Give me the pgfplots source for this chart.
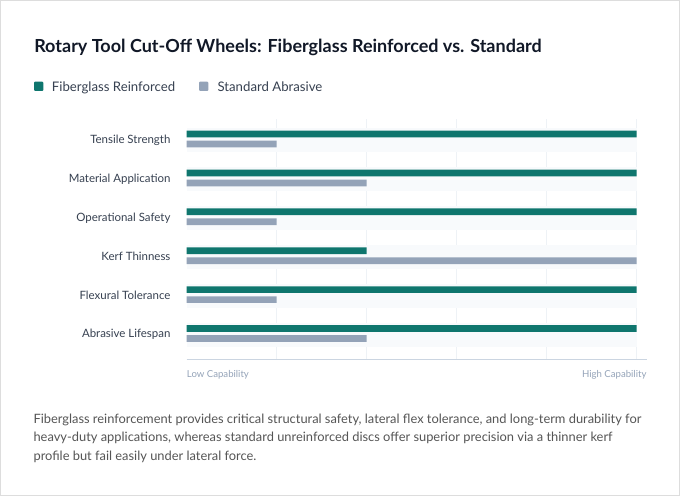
\documentclass[border=0pt]{standalone}
\usepackage{pgfplots}
\pgfplotsset{compat=1.18}
\usepackage{fontspec}
\setmainfont{Lato}
\definecolor{fg}{HTML}{0F766E}
\definecolor{sa}{HTML}{94A3B8}
\definecolor{band}{HTML}{F8FAFC}
\definecolor{gridc}{HTML}{EEF2F6}
\definecolor{axc}{HTML}{CBD5E1}
\definecolor{titlec}{HTML}{111827}
\definecolor{labc}{HTML}{374151}
\definecolor{footc}{HTML}{555555}
\definecolor{capc}{HTML}{94A3B8}
\definecolor{framec}{HTML}{DDDDDD}
\begin{document}
\begin{tikzpicture}
\useasboundingbox (0,0) rectangle (510pt,372pt);
\begin{scope}[x=0.75pt,y=0.75pt]
\draw[framec, fill=white, line width=0.75pt] (0.5,0.5) rectangle (679.5,495.5);
\node[anchor=base west, inner sep=0pt, text=titlec, font=\fontsize{13.5pt}{16pt}\selectfont\bfseries] at (34,443.3) {Rotary Tool Cut-Off Wheels: Fiberglass Reinforced vs. Standard};
\fill[fg, rounded corners=0.75pt] (34,405) rectangle (43.3,414.3);
\fill[sa, rounded corners=0.75pt] (199,405) rectangle (208.3,414.3);
\node[anchor=base west, inner sep=0pt, text=labc, font=\fontsize{9.9pt}{12pt}\selectfont] at (51.7,404.3) {Fiberglass Reinforced};
\node[anchor=base west, inner sep=0pt, text=labc, font=\fontsize{9.9pt}{12pt}\selectfont] at (217.3,404.3) {Standard Abrasive};
\end{scope}
\begin{axis}[
  at={(140.025pt,102.525pt)}, anchor=south west,
  scale only axis, width=345pt, height=180.2pt,
  xmin=0, xmax=5.111, ymin=-0.663, ymax=5.514,
  axis line style={draw=none},
  xbar, bar width=5pt,
  ytick={0,1,2,3,4,5},
  yticklabels={Abrasive Lifespan, Flexural Tolerance, Kerf Thinness, Operational Safety, Material Application, Tensile Strength},
  xtick={1,2,3,4,5},
  xticklabels={},
  xmajorgrids, major grid style={gridc, line width=0.75pt},
  major tick length=0pt,
  yticklabel style={anchor=east, inner sep=0pt, xshift=-12pt, yshift=-0.75pt, text=labc, font=\fontsize{8.6pt}{10pt}\selectfont},
  clip=false,
]
\pgfplotsinvokeforeach{0,...,5}{
  \fill[band] (axis cs:0,#1-0.334) rectangle (axis cs:5,#1+0.283);
}
\addplot[fill=fg, draw=none, bar shift=3.75pt] coordinates {(5,5) (5,4) (5,3) (2,2) (5,1) (5,0)};
\addplot[fill=sa, draw=none, bar shift=-3.75pt] coordinates {(1,5) (2,4) (1,3) (5,2) (1,1) (2,0)};
\end{axis}
\begin{scope}[x=0.75pt,y=0.75pt]
\draw[axc, line width=0.75pt] (186.7,136.7) -- (646.7,136.7);
\node[anchor=base west, inner sep=0pt, text=capc, font=\fontsize{7.2pt}{9pt}\selectfont] at (186.7,118.7) {Low Capability};
\node[anchor=base east, inner sep=0pt, text=capc, font=\fontsize{7.2pt}{9pt}\selectfont] at (646.7,118.7) {High Capability};
\node[anchor=base west, inner sep=0pt, text=footc, font=\fontsize{9.65pt}{13.75pt}\selectfont] at (33.3,72.7) {Fiberglass reinforcement provides critical structural safety, lateral flex tolerance, and long-term durability for};
\node[anchor=base west, inner sep=0pt, text=footc, font=\fontsize{9.65pt}{13.75pt}\selectfont] at (33.3,54.3) {heavy-duty applications, whereas standard unreinforced discs offer superior precision via a thinner kerf};
\node[anchor=base west, inner sep=0pt, text=footc, font=\fontsize{9.65pt}{13.75pt}\selectfont] at (33.3,36) {profile but fail easily under lateral force.};
\end{scope}
\end{tikzpicture}
\end{document}
